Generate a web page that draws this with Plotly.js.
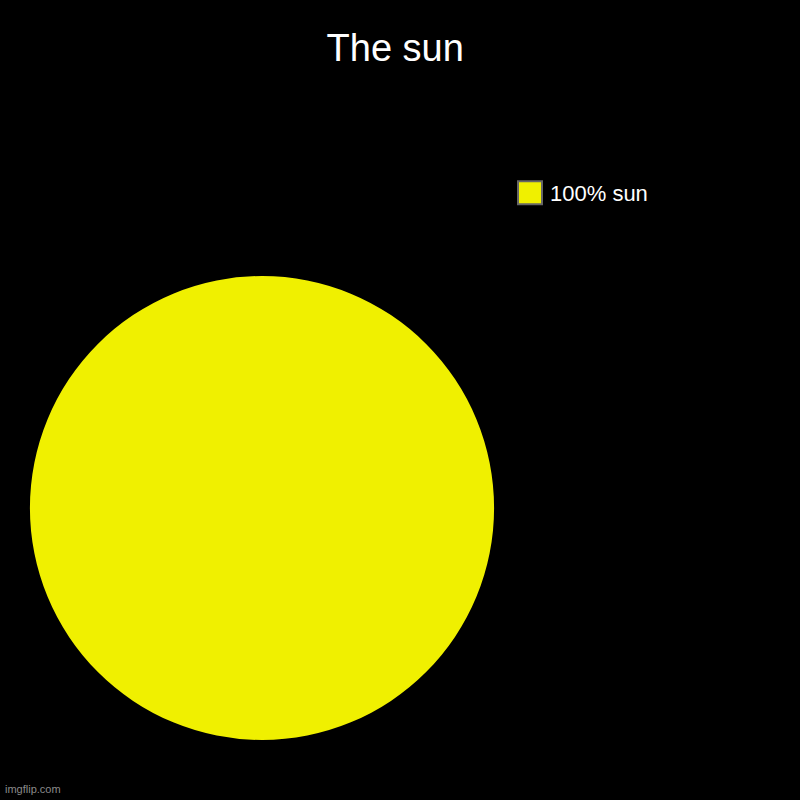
<!DOCTYPE html>
<html>
<head>
<meta charset="utf-8">
<script src="https://cdn.plot.ly/plotly-3.0.1.min.js"></script>
<style>html,body{margin:0;padding:0;background:#000;}#chart{width:800px;height:800px;}</style>
</head>
<body>
<div id="chart"></div>
<script>
const categories = ["100% sun"];
const values = [100];
const sliceColors = ["#F0F000"];
const chartTitle = "The sun";
const watermark = "imgflip.com";

const data = [{
  type: "pie",
  labels: categories,
  values: values,
  marker: {colors: sliceColors, line: {width: 0}},
  textinfo: "none",
  hoverinfo: "label+percent",
  sort: false,
  domain: {x: [0.0375, 0.6175], y: [0.075, 0.655]}
}];

const layout = {
  width: 800,
  height: 800,
  paper_bgcolor: "#000000",
  plot_bgcolor: "#000000",
  margin: {l: 0, r: 0, t: 0, b: 0},
  font: {family: "Liberation Sans, Arial, sans-serif", color: "#ffffff"},
  title: {
    text: chartTitle,
    font: {family: "Liberation Sans, Arial, sans-serif", size: 38, color: "#ffffff"},
    x: 0.494, xanchor: "center",
    y: 0.94, yanchor: "middle",
    xref: "paper", yref: "container"
  },
  showlegend: true,
  legend: {
    x: 0.6375, xanchor: "left",
    y: 0.785, yanchor: "top",
    font: {family: "Liberation Sans, Arial, sans-serif", size: 22, color: "#ffffff"},
    bgcolor: "rgba(0,0,0,0)"
  },
  annotations: [{
    text: watermark,
    xref: "paper", yref: "paper",
    x: 0.004, y: 0.004, xanchor: "left", yanchor: "bottom",
    showarrow: false,
    font: {family: "Liberation Sans, Arial, sans-serif", size: 11, color: "#8a8a8a"}
  }]
};

function enlargeLegendSymbols() {
  document.querySelectorAll("#chart .legendpoints path").forEach(p => {
    p.setAttribute("d", "M12,11.5H-12V-11.5H12Z");
    p.style.stroke = "#666666";
    p.style.strokeWidth = "2px";
  });
}

Plotly.newPlot("chart", data, layout, {displayModeBar: false, staticPlot: true}).then(gd => {
  enlargeLegendSymbols();
  gd.on("plotly_afterplot", enlargeLegendSymbols);
});
</script>
</body>
</html>
